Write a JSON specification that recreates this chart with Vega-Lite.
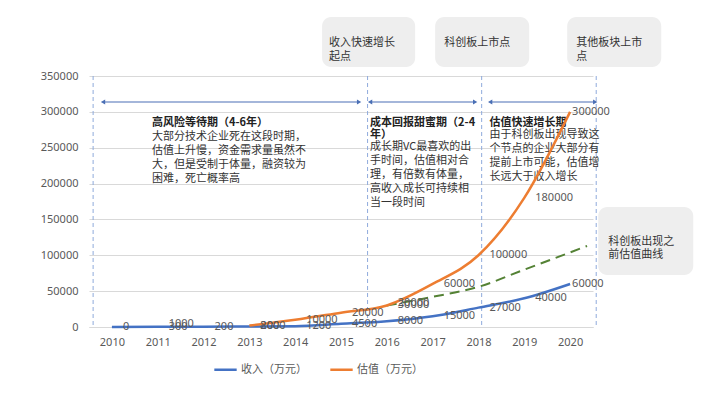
{
  "$schema": "https://vega.github.io/schema/vega-lite/v6.json",
  "autosize": "none",
  "width": 504,
  "height": 251,
  "padding": {"left": 89, "top": 76, "right": 126, "bottom": 70},
  "background": "#ffffff",
  "config": {
    "view": {"stroke": null},
    "font": "Noto Sans CJK SC",
    "axis": {"labelFont": "Noto Sans", "labelFontSize": 11, "labelColor": "#595959", "title": null},
    "axisY": {"tickCount": 8, "labelOverlap": false, "gridColor": "#d9d9d9", "domain": false, "ticks": false, "labelPadding": 11}
  },
  "datasets": {
    "series": [
      {"year": 2010, "series": "收入（万元）", "value": 0},
      {"year": 2011, "series": "收入（万元）", "value": 300},
      {"year": 2012, "series": "收入（万元）", "value": 200},
      {"year": 2013, "series": "收入（万元）", "value": 800},
      {"year": 2014, "series": "收入（万元）", "value": 1200},
      {"year": 2015, "series": "收入（万元）", "value": 4500},
      {"year": 2016, "series": "收入（万元）", "value": 8000},
      {"year": 2017, "series": "收入（万元）", "value": 15000},
      {"year": 2018, "series": "收入（万元）", "value": 27000},
      {"year": 2019, "series": "收入（万元）", "value": 40000},
      {"year": 2020, "series": "收入（万元）", "value": 60000},
      {"year": 2013, "series": "估值（万元）", "value": 2000},
      {"year": 2014, "series": "估值（万元）", "value": 10000},
      {"year": 2015, "series": "估值（万元）", "value": 20000},
      {"year": 2016, "series": "估值（万元）", "value": 30000},
      {"year": 2017, "series": "估值（万元）", "value": 60000},
      {"year": 2018, "series": "估值（万元）", "value": 100000},
      {"year": 2019, "series": "估值（万元）", "value": 180000},
      {"year": 2020, "series": "估值（万元）", "value": 300000}
    ],
    "green": [
      {"year": 2016, "value": 30000},
      {"year": 2017, "value": 42000},
      {"year": 2018, "value": 56000},
      {"year": 2019, "value": 80000},
      {"year": 2020, "value": 104000},
      {"year": 2020.37, "value": 113000}
    ],
    "extraLabels": [
      {"year": 2011, "value": 1000, "label": "1000"},
      {"year": 2016, "value": 30000, "label": "20000"}
    ],
    "vlines": [
      {"x": 2009.59}, {"x": 2015.58}, {"x": 2018.07}, {"x": 2020.57}
    ],
    "arrows": [
      {"x1": 2009.806, "x2": 2015.395, "y": 313745},
      {"x1": 2015.635, "x2": 2017.928, "y": 313745},
      {"x1": 2018.255, "x2": 2020.548, "y": 313745}
    ],
    "boxes": [
      {"x1": 2014.587, "x2": 2016.618, "y1": 362550, "y2": 432271, "tx": 2014.74, "ty": 395527, "label": "收入快速增长\n起点"},
      {"x1": 2017.055, "x2": 2019.107, "y1": 362550, "y2": 432271, "tx": 2017.251, "ty": 395597, "label": "科创板上市点"},
      {"x1": 2019.937, "x2": 2021.989, "y1": 362550, "y2": 432271, "tx": 2020.133, "ty": 395527, "label": "其他板块上市\n点"},
      {"x1": 2020.614, "x2": 2022.688, "y1": 72510, "y2": 167331, "tx": 2020.832, "ty": 118526, "label": "科创板出现之\n前估值曲线"}
    ],
    "titles": [
      {"x": 2010.876, "y": 293525, "label": "高风险等待期（4-6年）"},
      {"x": 2015.635, "y": 293525, "label": "成本回报甜蜜期（2-4\n年）"},
      {"x": 2018.24, "y": 293525, "label": "估值快速增长期"}
    ],
    "bodies": [
      {"x": 2010.876, "y": 273027, "label": "大部分技术企业死在这段时期，\n估值上升慢，资金需求量虽然不\n大，但是受制于体量，融资较为\n困难，死亡概率高"},
      {"x": 2015.635, "y": 258670, "label": "成长期VC最喜欢的出\n手时间，估值相对合\n理，有倍数有体量，\n高收入成长可持续相\n当一段时间"},
      {"x": 2018.24, "y": 275402, "label": "由于科创板出现导致这\n个节点的企业大部分有\n提前上市可能，估值增\n长远大于收入增长"}
    ]
  },
  "layer": [
    {
      "data": {"name": "boxes"},
      "mark": {"type": "rect", "fill": "#eeeeee", "cornerRadius": 9},
      "encoding": {
        "x": {"field": "x1", "type": "quantitative", "scale": {"domain": [2009.5, 2020.5], "nice": false, "zero": false},
              "axis": {"values": [2010, 2011, 2012, 2013, 2014, 2015, 2016, 2017, 2018, 2019, 2020], "format": "d", "grid": false, "ticks": false, "domainColor": "#d9d9d9", "labelPadding": 9}},
        "x2": {"field": "x2"},
        "y": {"field": "y1", "type": "quantitative", "scale": {"domain": [0, 350000], "nice": false},
              "axis": {"values": [0, 50000, 100000, 150000, 200000, 250000, 300000, 350000], "format": "d", "grid": true}},
        "y2": {"field": "y2"}
      }
    },
    {
      "data": {"name": "boxes"},
      "mark": {"type": "text", "align": "left", "baseline": "middle", "lineBreak": "\n", "lineHeight": 13.5, "fontSize": 11, "color": "#333333"},
      "encoding": {
        "x": {"field": "tx", "type": "quantitative"},
        "y": {"field": "ty", "type": "quantitative", "axis": {"values": [0, 50000, 100000, 150000, 200000, 250000, 300000, 350000], "format": "d", "grid": true}},
        "text": {"field": "label"}
      }
    },
    {
      "data": {"name": "vlines"},
      "mark": {"type": "rule", "color": "#8faadc", "strokeDash": [4, 3], "strokeWidth": 1},
      "encoding": {"x": {"field": "x", "type": "quantitative"}}
    },
    {
      "data": {"name": "arrows"},
      "mark": {"type": "rule", "color": "#4a6fb5", "strokeWidth": 1.2},
      "encoding": {
        "x": {"field": "x1", "type": "quantitative"},
        "x2": {"field": "x2"},
        "y": {"field": "y", "type": "quantitative", "axis": {"values": [0, 50000, 100000, 150000, 200000, 250000, 300000, 350000], "format": "d", "grid": true}}
      }
    },
    {
      "data": {"name": "arrows"},
      "mark": {"type": "point", "shape": "triangle-left", "filled": true, "color": "#4a6fb5", "size": 25, "opacity": 1},
      "encoding": {
        "x": {"field": "x1", "type": "quantitative"},
        "y": {"field": "y", "type": "quantitative", "axis": {"values": [0, 50000, 100000, 150000, 200000, 250000, 300000, 350000], "format": "d", "grid": true}}
      }
    },
    {
      "data": {"name": "arrows"},
      "mark": {"type": "point", "shape": "triangle-right", "filled": true, "color": "#4a6fb5", "size": 25, "opacity": 1},
      "encoding": {
        "x": {"field": "x2", "type": "quantitative"},
        "y": {"field": "y", "type": "quantitative", "axis": {"values": [0, 50000, 100000, 150000, 200000, 250000, 300000, 350000], "format": "d", "grid": true}}
      }
    },
    {
      "data": {"name": "titles"},
      "mark": {"type": "text", "align": "left", "baseline": "top", "lineBreak": "\n", "lineHeight": 12, "fontSize": 11, "fontWeight": "bold", "color": "#222222"},
      "encoding": {
        "x": {"field": "x", "type": "quantitative"},
        "y": {"field": "y", "type": "quantitative", "axis": {"values": [0, 50000, 100000, 150000, 200000, 250000, 300000, 350000], "format": "d", "grid": true}},
        "text": {"field": "label"}
      }
    },
    {
      "data": {"name": "bodies"},
      "mark": {"type": "text", "align": "left", "baseline": "top", "lineBreak": "\n", "lineHeight": 13.8, "fontSize": 11, "color": "#333333"},
      "encoding": {
        "x": {"field": "x", "type": "quantitative"},
        "y": {"field": "y", "type": "quantitative", "axis": {"values": [0, 50000, 100000, 150000, 200000, 250000, 300000, 350000], "format": "d", "grid": true}},
        "text": {"field": "label"}
      }
    },
    {
      "data": {"name": "green"},
      "mark": {"type": "line", "color": "#548235", "strokeWidth": 2, "strokeDash": [10, 6], "interpolate": "monotone"},
      "encoding": {
        "x": {"field": "year", "type": "quantitative"},
        "y": {"field": "value", "type": "quantitative", "axis": {"values": [0, 50000, 100000, 150000, 200000, 250000, 300000, 350000], "format": "d", "grid": true}}
      }
    },
    {
      "data": {"name": "series"},
      "mark": {"type": "line", "strokeWidth": 2.5, "interpolate": "monotone"},
      "encoding": {
        "x": {"field": "year", "type": "quantitative"},
        "y": {"field": "value", "type": "quantitative", "axis": {"values": [0, 50000, 100000, 150000, 200000, 250000, 300000, 350000], "format": "d", "grid": true}},
        "color": {
          "field": "series", "type": "nominal",
          "scale": {"domain": ["收入（万元）", "估值（万元）"], "range": ["#4472c4", "#ed7d31"]},
          "legend": {
            "title": null, "orient": "none", "legendX": 124, "legendY": 281, "direction": "horizontal",
            "symbolType": "stroke", "symbolStrokeWidth": 2.5, "symbolSize": 500,
            "labelFontSize": 11, "labelColor": "#595959", "labelFont": "Noto Sans CJK SC",
            "columnPadding": 18, "labelOffset": 3
          }
        }
      }
    },
    {
      "data": {"name": "series"},
      "transform": [{"filter": "datum.year < 2020"}],
      "mark": {"type": "text", "align": "left", "baseline": "middle", "dx": 11, "fontSize": 11, "font": "Noto Sans", "color": "#595959"},
      "encoding": {
        "x": {"field": "year", "type": "quantitative"},
        "y": {"field": "value", "type": "quantitative", "axis": {"values": [0, 50000, 100000, 150000, 200000, 250000, 300000, 350000], "format": "d", "grid": true}},
        "text": {"field": "value", "type": "quantitative", "format": "d"}
      }
    },
    {
      "data": {"name": "series"},
      "transform": [{"filter": "datum.year == 2020"}],
      "mark": {"type": "text", "align": "left", "baseline": "middle", "dx": 2, "fontSize": 11, "font": "Noto Sans", "color": "#595959"},
      "encoding": {
        "x": {"field": "year", "type": "quantitative"},
        "y": {"field": "value", "type": "quantitative", "axis": {"values": [0, 50000, 100000, 150000, 200000, 250000, 300000, 350000], "format": "d", "grid": true}},
        "text": {"field": "value", "type": "quantitative", "format": "d"}
      }
    },
    {
      "data": {"name": "extraLabels"},
      "mark": {"type": "text", "align": "left", "baseline": "middle", "dx": 11, "dy": -2, "fontSize": 11, "font": "Noto Sans", "color": "#595959"},
      "encoding": {
        "x": {"field": "year", "type": "quantitative"},
        "y": {"field": "value", "type": "quantitative", "axis": {"values": [0, 50000, 100000, 150000, 200000, 250000, 300000, 350000], "format": "d", "grid": true}},
        "text": {"field": "label"}
      }
    }
  ]
}
